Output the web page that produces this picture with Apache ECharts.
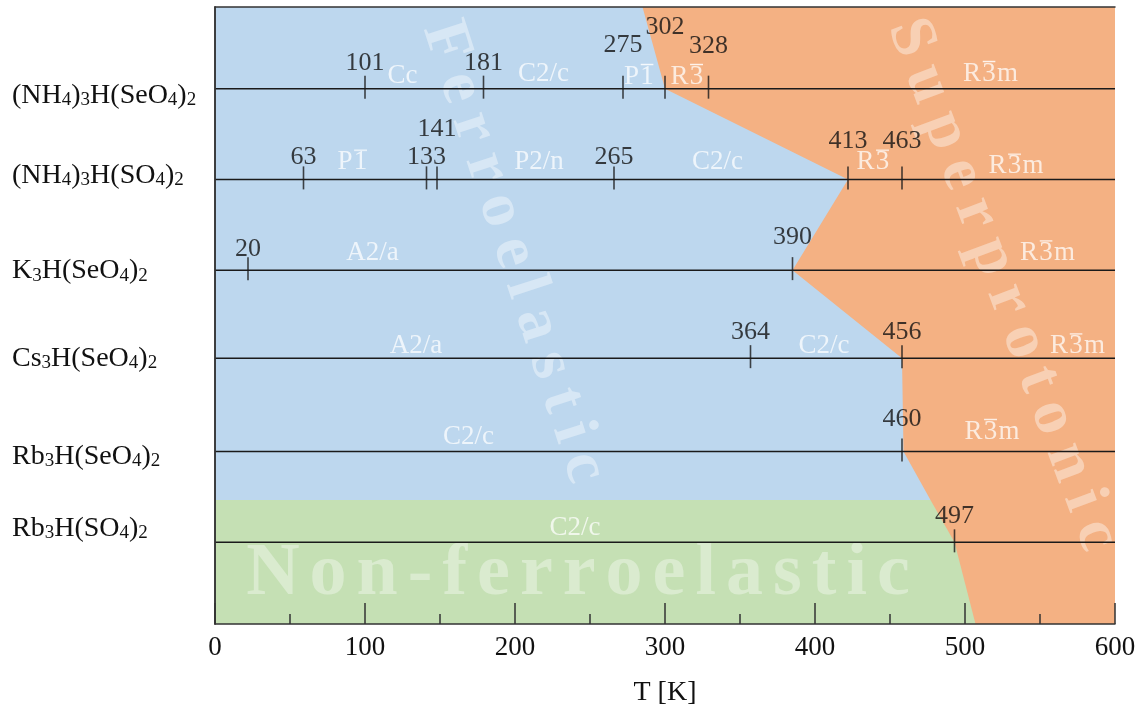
<!DOCTYPE html>
<html>
<head>
<meta charset="utf-8">
<script src="https://cdn.jsdelivr.net/npm/echarts@6/dist/echarts.min.js"></script>
<style>html,body{margin:0;background:#fff}#chart{width:1139px;height:713px}</style>
</head>
<body>
<div id="chart"></div>
<script>
// compounds, top to bottom, and the level of their line on the y axis
var rowNames = ['(NH4)3H(SeO4)2', '(NH4)3H(SO4)2', 'K3H(SeO4)2', 'Cs3H(SeO4)2', 'Rb3H(SeO4)2', 'Rb3H(SO4)2'];
var rowLevel = [6, 5, 4, 3.03, 2, 1];

// transition temperatures: where the tick sits, and the printed value
var transT = [[100, 179, 272, 300, 329], [59, 141, 148, 266, 422, 458], [22, 385], [357, 458], [458], [493]];
var transText = [['101', '181', '275', '302', '328'], ['63', '133', '141', '265', '413', '463'], ['20', '390'], ['364', '456'], ['460'], ['497']];

// phases (space groups, \u0304 = bar over the digit) and where their names sit along T
var phaseNames = [['Cc', 'C2/c', 'P1\u0304', 'R3\u0304', 'R3\u0304m'], ['P1\u0304', 'P2/n', 'C2/c', 'R3\u0304', 'R3\u0304m'], ['A2/a', 'R3\u0304m'], ['A2/a', 'C2/c', 'R3\u0304m'], ['C2/c', 'R3\u0304m'], ['C2/c']];
var phaseT = [[125, 219, 283, 315, 517], [92, 216, 335, 439, 534], [105, 555], [134, 406, 575], [169, 518], [240]];

// ferroelastic / superprotonic boundary, top to bottom
var boundT = [285, 300, 422, 385, 458, 459, 477, 493, 507];
var boundY = [6.9, 6, 5, 4, 3.03, 2, 1.467, 1, 0.1];
var greenTop = 6; // index in boundary where green region starts

// layout only
var font = "'Liberation Serif', 'Times New Roman', serif";
var labelDy = [[-25, -25, -43, -61, -42], [-22, -22, -50, -22, -38, -38], [-21, -33], [-26, -26], [-32], [-26]];
var phaseDy = [[-13, -15, -12, -12, -15], [-17, -17, -17, -17, -13], [-17, -17], [-12, -12, -12], [-15, -20], [-14]];
var nameLevel = [5.93, 5.05, 4.0, 3.04, 1.96, 1.16];

var yMin = 0.1, yMax = 6.9;

function subs(s) {
    return s.replace(/(\d)|([^\d]+)/g, function (m, d, t) {
        return d ? '{s|' + d + '}' : '{m|' + t + '}';
    });
}
function spaced(s, key) {
    return s.split('').map(function (c) { return '{' + key + '|' + c + '}'; }).join('');
}

// small picture used as the background of a barred digit: a bar across its top
var barH = 34;
var barImg = document.createElement('canvas');
barImg.width = 20; barImg.height = barH;
(function () {
    var c = barImg.getContext('2d');
    c.fillStyle = 'rgba(255,255,255,0.92)';
    c.fillRect(2, 0.8, 16, 1.6);
})();

var pts = boundT.map(function (t, i) { return [t, boundY[i]]; });
var blue = [[0, yMax]].concat(pts.slice(0, greenTop + 1)).concat([[0, boundY[greenTop]]]);
var green = [[0, boundY[greenTop]]].concat(pts.slice(greenTop)).concat([[0, yMin]]);
var orange = [[0, yMin], [0, yMax], [600, yMax], [600, yMin]];
var regions = [orange, blue, green];
var regionColors = ['#F4B183', '#BDD7EE', '#C5E0B4'];

var lineSeries = rowLevel.map(function (lv) {
    return {
        type: 'line', data: [[0, lv], [600, lv]], symbol: 'none', z: 3, silent: true,
        lineStyle: { color: '#1a1a1a', width: 1.5 }
    };
});

var tickData = [], numData = [], phaseData = [];
transT.forEach(function (row, r) {
    row.forEach(function (t, k) {
        tickData.push([t, rowLevel[r]]);
        numData.push({ value: [t, rowLevel[r]], name: transText[r][k], label: { offset: [0, labelDy[r][k]] } });
    });
});
phaseT.forEach(function (row, r) {
    row.forEach(function (t, k) {
        phaseData.push({ value: [t, rowLevel[r]], name: phaseNames[r][k], label: { offset: [0, phaseDy[r][k]] } });
    });
});

var wmRich = {
    f: { fontSize: 64, fontWeight: 'bold', fontFamily: font, color: 'rgba(255,255,255,0.5)', padding: [0, 7] },
    n: { fontSize: 74, fontWeight: 'bold', fontFamily: font, color: 'rgba(255,255,255,0.45)', padding: [0, 5] }
};
var wmData = [
    { value: [199, 4.2], name: spaced('Ferroelastic', 'f'), label: { rotate: -72 } },
    { value: [525, 3.84], name: spaced('Superprotonic', 'f'), label: { rotate: -69.5 } },
    { value: [242, 0.64], name: spaced('Non-ferroelastic', 'n') }
];

var phaseFont = 27;
var chart = echarts.init(document.getElementById('chart'));

option = {
    animation: false,
    backgroundColor: '#fff',
    grid: { left: 215, right: 24, top: 7, bottom: 89 },
    xAxis: [
        {
            type: 'value', min: 0, max: 600, interval: 100, z: 6,
            name: 'T [K]', nameLocation: 'middle', nameGap: 55,
            nameTextStyle: { fontSize: 28, fontFamily: font, color: '#111' },
            axisLine: { show: true, lineStyle: { color: '#333', width: 1.5 } },
            axisTick: { show: true, inside: true, length: 21, lineStyle: { color: '#333', width: 1.5 } },
            minorTick: { show: true, splitNumber: 2, length: 10, lineStyle: { color: '#333', width: 1.5 } },
            axisLabel: { fontSize: 27, fontFamily: font, color: '#111', margin: 10 },
            splitLine: { show: false }
        },
        {
            type: 'value', min: 0, max: 600, position: 'top', z: 6,
            axisLine: { show: true, lineStyle: { color: '#333', width: 1.5 } },
            axisTick: { show: false }, axisLabel: { show: false }, splitLine: { show: false }
        }
    ],
    yAxis: [
        {
            type: 'value', min: yMin, max: yMax, z: 6,
            axisLine: { show: true, lineStyle: { color: '#333', width: 1.5 } },
            axisTick: { show: false }, splitLine: { show: false },
            axisLabel: {
                customValues: nameLevel, align: 'left', margin: 203,
                formatter: function (v) {
                    var i = nameLevel.indexOf(v);
                    if (i < 0) i = 6 - Math.round(v);
                    return subs(rowNames[i]);
                },
                rich: {
                    m: { fontSize: 28, fontFamily: font, color: '#111', lineHeight: 30, verticalAlign: 'bottom' },
                    s: { fontSize: 19, fontFamily: font, color: '#111', lineHeight: 11, verticalAlign: 'bottom' }
                }
            }
        },
        {
            type: 'value', min: yMin, max: yMax, position: 'right', z: 6,
            axisLine: { show: true, lineStyle: { color: '#333', width: 1.5 } },
            axisTick: { show: false }, axisLabel: { show: false }, splitLine: { show: false }
        }
    ],
    series: [
        {
            type: 'custom', z: 1, silent: true,
            data: regions.map(function (r, i) { return [i, 1]; }),
            renderItem: function (params, api) {
                var p = regions[params.dataIndex].map(function (q) { return api.coord(q); });
                return { type: 'polygon', shape: { points: p }, style: { fill: regionColors[params.dataIndex] } };
            }
        }
    ].concat(lineSeries).concat([
        {
            type: 'scatter', z: 4, silent: true, data: tickData,
            symbol: 'rect', symbolSize: [1.6, 23], symbolOffset: [0, -1.5],
            itemStyle: { color: '#1a1a1a' }
        },
        {
            type: 'scatter', z: 5, silent: true, data: numData,
            symbolSize: 1, itemStyle: { color: 'transparent' },
            label: { show: true, position: 'inside', formatter: '{b}', fontSize: 26, fontFamily: font, color: '#111' }
        },
        {
            type: 'scatter', z: 5, silent: true, data: phaseData,
            symbolSize: 1, itemStyle: { color: 'transparent' },
            label: {
                show: true, position: 'inside',
                formatter: function (p) {
                    return p.name.replace(/(\d)\u0304/g, '{o|$1}');
                },
                fontSize: phaseFont, fontFamily: font, color: 'rgba(255,255,255,0.92)',
                rich: {
                    o: {
                        fontSize: phaseFont, fontFamily: font, color: 'rgba(255,255,255,0.92)',
                        lineHeight: barH, backgroundColor: { image: barImg }
                    }
                }
            }
        },
        {
            type: 'scatter', z: 2, silent: true, data: wmData,
            symbolSize: 1, itemStyle: { color: 'transparent' },
            label: { show: true, position: 'inside', formatter: '{b}', rich: wmRich }
        }
    ])
};

chart.setOption(option);
</script>
</body>
</html>
